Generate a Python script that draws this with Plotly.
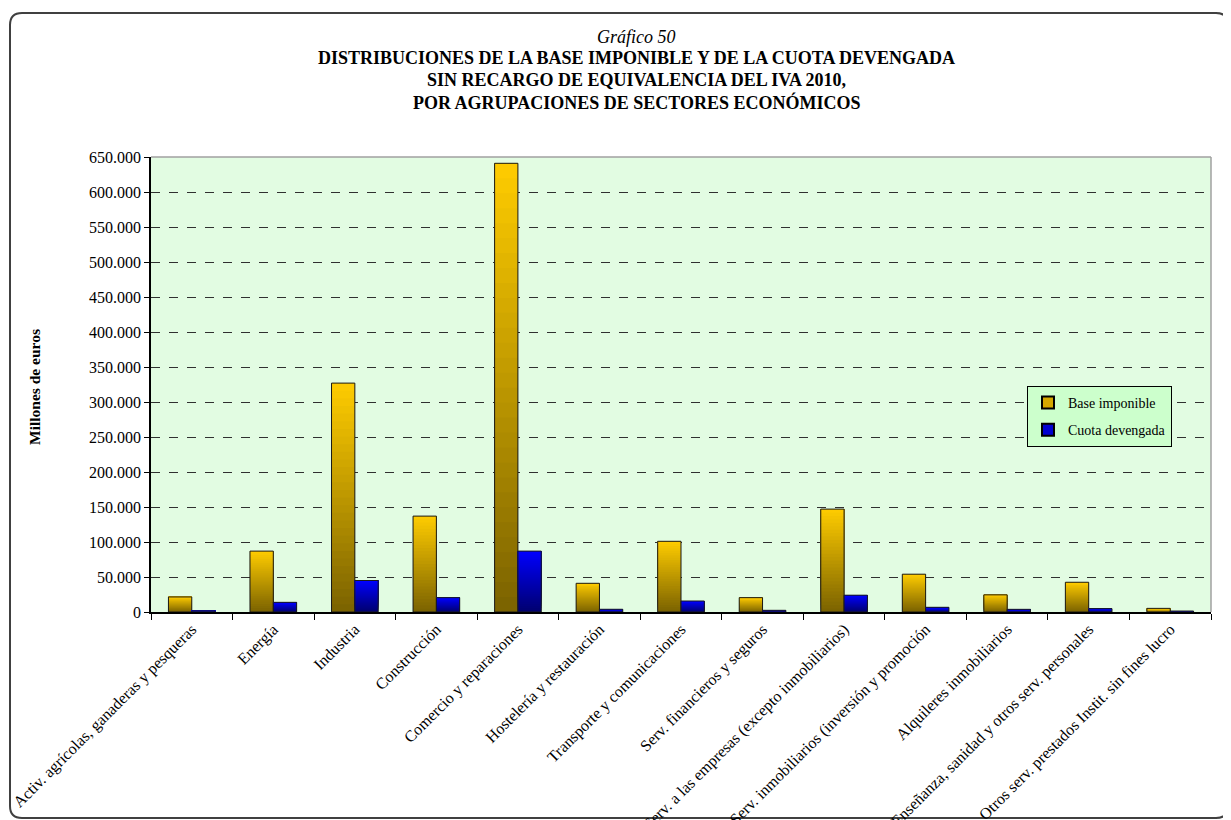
import plotly.graph_objects as go

# ---------------- data ----------------
categorias = [
    "Activ. agrícolas, ganaderas y pesqueras",
    "Energía",
    "Industria",
    "Construcción",
    "Comercio y reparaciones",
    "Hostelería y restauración",
    "Transporte y comunicaciones",
    "Serv. financieros y seguros",
    "Serv. a las empresas (excepto inmobiliarios)",
    "Serv. inmobiliarios (inversión y promoción",
    "Alquileres inmobiliarios",
    "Enseñanza, sanidad y otros serv. personales",
    "Otros serv. prestados Instit. sin fines lucro",
]
base_imponible = [21500, 87000, 327000, 137000, 641000, 41000, 101000, 20500, 147000, 54000, 24500, 42500, 5200]
cuota_devengada = [1500, 13800, 45000, 20500, 87000, 3900, 15700, 2400, 24000, 6700, 3800, 4800, 1400]
series_names = ["Base imponible", "Cuota devengada"]
y_ticks = list(range(0, 650001, 50000))

# ---------------- styling ----------------
FONT = "Liberation Serif"
O = 8                      # page body margin
W, H = 1231 - O, 820 - O   # figure size
PL, PR, PT, PB = 151, 1211, 157, 612  # plot area in page pixels

def px(x):
    return (x - PL) / (PR - PL)

def py(y):
    return (PB - y) / (PB - PT)

gradients = {
    "Base imponible": ((255, 204, 0), (122, 98, 0)),
    "Cuota devengada": ((0, 0, 255), (0, 0, 110)),
}
legend_colors = {"Base imponible": "#d4a800", "Cuota devengada": "#0000d0"}
N_SEG = 30

fig = go.Figure()

for name, values in zip(series_names, [base_imponible, cuota_devengada]):
    top, bot = gradients[name]
    for i in range(N_SEG):
        t = (i + 0.5) / N_SEG  # 0 bottom -> 1 top
        c = tuple(round(bot[k] + (top[k] - bot[k]) * t) for k in range(3))
        fig.add_trace(go.Bar(
            x=categorias,
            y=[v * (N_SEG - i) / N_SEG for v in values],
            base=[v * i / N_SEG for v in values],
            offsetgroup=name,
            marker=dict(color="rgb(%d,%d,%d)" % c, line=dict(width=0)),
            showlegend=False, hoverinfo="skip",
        ))
    # outline
    fig.add_trace(go.Bar(
        x=categorias, y=values, offsetgroup=name, name=name,
        marker=dict(color="rgba(0,0,0,0)", line=dict(color="#1a1a1a", width=1)),
        showlegend=False,
    ))
    # legend entry
    fig.add_trace(go.Bar(
        x=categorias, y=[None] * len(categorias), offsetgroup=name, name=name,
        legendgroup=name,
        marker=dict(color=legend_colors[name], line=dict(color="#000", width=1)),
        showlegend=True,
    ))

# plot border (grey top/right)
shapes = [
    dict(type="line", xref="paper", yref="paper", x0=0, x1=1, y0=1, y1=1,
         line=dict(color="#a0a0a0", width=1.5), layer="below"),
    dict(type="line", xref="paper", yref="paper", x0=1, x1=1, y0=0, y1=1,
         line=dict(color="#a0a0a0", width=1.5), layer="below"),
]

# outer rounded frame
fx0, fy0, fx1, fy1, r = 10, 13, 1228, 818, 12
path = (
    f"M {px(fx0 + r)},{py(fy0)} L {px(fx1 - r)},{py(fy0)} "
    f"Q {px(fx1)},{py(fy0)} {px(fx1)},{py(fy0 + r)} "
    f"L {px(fx1)},{py(fy1 - r)} Q {px(fx1)},{py(fy1)} {px(fx1 - r)},{py(fy1)} "
    f"L {px(fx0 + r)},{py(fy1)} Q {px(fx0)},{py(fy1)} {px(fx0)},{py(fy1 - r)} "
    f"L {px(fx0)},{py(fy0 + r)} Q {px(fx0)},{py(fy0)} {px(fx0 + r)},{py(fy0)} Z"
)
shapes.append(dict(type="path", xref="paper", yref="paper", path=path,
                   line=dict(color="#404040", width=2), layer="below"))

title_lines = [
    ("<i>Gráfico 50</i>", 37, 18),
    ("<b>DISTRIBUCIONES DE LA BASE IMPONIBLE Y DE LA CUOTA DEVENGADA</b>", 58, 18),
    ("<b>SIN RECARGO DE EQUIVALENCIA DEL IVA 2010,</b>", 80, 18),
    ("<b>POR AGRUPACIONES DE SECTORES ECONÓMICOS</b>", 102, 18),
]
annotations = [
    dict(text=t, xref="paper", yref="paper", x=px(636), y=py(yy), showarrow=False,
         xanchor="center", yanchor="middle", font=dict(family=FONT, size=s, color="#000"))
    for t, yy, s in title_lines
]
annotations.append(dict(
    text="<b>Millones de euros</b>", xref="paper", yref="paper", x=px(34), y=py(387),
    textangle=-90, showarrow=False, xanchor="center", yanchor="middle",
    font=dict(family=FONT, size=15.5, color="#000"),
))

fig.update_layout(
    width=W, height=H,
    margin=dict(l=PL - O, r=1231 - PR, t=PT - O, b=820 - PB, autoexpand=False),
    paper_bgcolor="white",
    plot_bgcolor="#e2fce2",
    barmode="group",
    bargap=0.428,
    bargroupgap=0,
    separators=",.",
    font=dict(family=FONT, size=15, color="#000"),
    shapes=shapes,
    annotations=annotations,
    legend=dict(
        x=px(1027), y=py(386), xanchor="left", yanchor="top",
        bgcolor="#ccffcc", bordercolor="#000", borderwidth=1,
        font=dict(family=FONT, size=14, color="#000"),
        tracegroupgap=6, itemsizing="constant",
    ),
    showlegend=True,
)

fig.update_xaxes(
    type="category", categoryorder="array", categoryarray=categorias,
    tickson="boundaries", ticks="outside", ticklen=6, tickcolor="#000",
    showline=True, linecolor="#000", linewidth=1.5,
    showgrid=False, tickangle=-45,
    tickfont=dict(family=FONT, size=16, color="#000"),
)
fig.update_yaxes(
    range=[0, 650000], tickvals=y_ticks, tickformat=",d",
    ticks="outside", ticklen=5, tickcolor="#000",
    showline=True, linecolor="#000", linewidth=1.5,
    showgrid=True, gridcolor="#303030", gridwidth=1, griddash="dash",
    zeroline=False,
    tickfont=dict(family=FONT, size=16, color="#000"),
)

fig.write_html("out.html")
